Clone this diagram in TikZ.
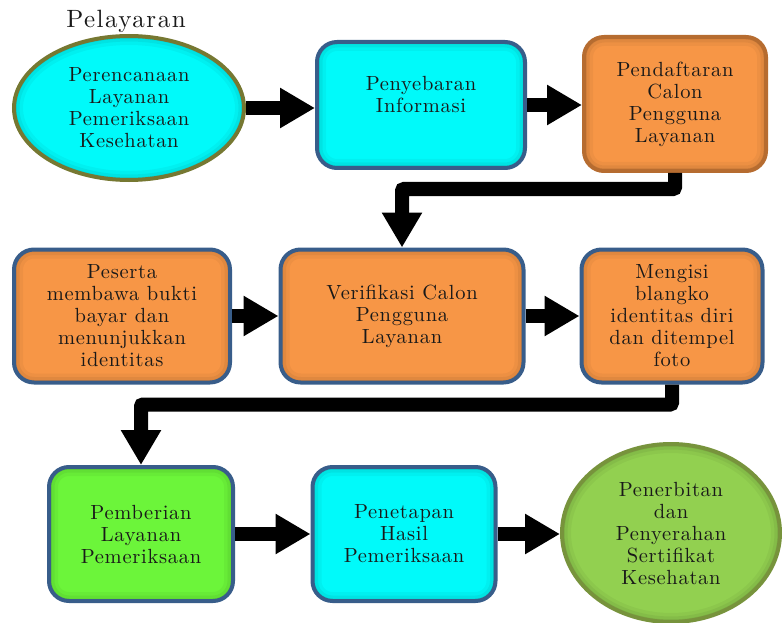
\documentclass[tikz,border=0pt]{standalone}
\usepackage{fontspec}
\setmainfont{lmroman10-regular.otf}[LetterSpace=3.5]
\usetikzlibrary{arrows.meta,calc,shapes.geometric}
\definecolor{cyanfill}{RGB}{0,250,250}
\definecolor{orangefill}{RGB}{247,150,70}
\definecolor{greenfill}{RGB}{108,245,58}
\definecolor{limefill}{RGB}{146,208,80}
\definecolor{boxline}{RGB}{56,93,138}
\definecolor{orangeline}{RGB}{182,108,48}
\definecolor{oliveline}{RGB}{118,120,50}
\definecolor{limeline}{RGB}{119,147,60}
\newcommand\glowpath[1]{%
    \foreach \gw/\go in {18/.04,11/.05,5/.06}
        \draw[line width=\gw,draw=black,draw opacity=\go,#1]}
\begin{document}
\begin{tikzpicture}[x=1pt,y=-1pt,
    txt/.style={align=center,text=black!90,font=\fontsize{20.5}{22}\selectfont},
    box/.style={txt,draw=boxline,line width=4,rounded corners=20,
        path picture={\glowpath{rounded corners=20}
            (path picture bounding box.south west) rectangle (path picture bounding box.north east);}},
    oval/.style={txt,ellipse,line width=4,inner sep=0pt,
        path picture={\glowpath{}
            let \p1=($(path picture bounding box.north east)-(path picture bounding box.center)$) in
            (path picture bounding box.center) ellipse [x radius=\x1,y radius=\y1];}},
    flow/.style={line width=14,rounded corners=2,-{Triangle[length=35pt,width=38pt]}}]
    \useasboundingbox (0,0) rectangle (782,623);

    \node[anchor=base,text=black!90,font=\fontsize{25}{27}\selectfont\addfontfeature{LetterSpace=6}] (ttl) at (126,28) {Pelayaran};

    \node[oval,fill=cyanfill,draw=oliveline,minimum width=230,minimum height=144] (ren) at (129,108)
        {Perencanaan\\Layanan\\Pemeriksaan\\Kesehatan};
    \node[box,fill=cyanfill,minimum width=208,minimum height=126] (sebar) at (421,105)
        {Penyebaran\\Informasi\\\phantom{I}};
    \node[box,fill=orangefill,draw=orangeline,minimum width=182,minimum height=134] (daftar) at (675,104)
        {Pendaftaran\\Calon\\Pengguna\\Layanan};

    \node[box,fill=orangefill,minimum width=216,minimum height=133] (bukti) at (122,316)
        {Peserta\\membawa bukti\\bayar dan\\menunjukkan\\identitas};
    \node[box,fill=orangefill,minimum width=243,minimum height=133] (verif) at (402,316)
        {Verifikasi Calon\\Pengguna\\Layanan};
    \node[box,fill=orangefill,minimum width=181,minimum height=133] (isi) at (672,316)
        {Mengisi\\blangko\\identitas diri\\dan ditempel\\foto};

    \node[box,fill=greenfill,minimum width=184,minimum height=134] (beri) at (141,534)
        {Pemberian\\Layanan\\Pemeriksaan};
    \node[box,fill=cyanfill,minimum width=183,minimum height=134] (tetap) at (404,534)
        {Penetapan\\Hasil\\Pemeriksaan};
    \node[oval,fill=limefill,draw=limeline,minimum width=218,minimum height=178] (terbit) at (671,533)
        {Penerbitan\\dan\\Penyerahan\\Sertifikat\\Kesehatan};

    \draw[flow] (ren.east) -- (ren.east -| sebar.west);
    \draw[flow] (sebar.east) -- (sebar.east -| daftar.west);
    \draw[flow] (daftar.south) -- ++(0,16) -| (verif.north);
    \draw[flow] (bukti.east) -- (bukti.east -| verif.west);
    \draw[flow] (verif.east) -- (verif.east -| isi.west);
    \draw[flow] (isi.south) -- ++(0,20) -| (beri.north);
    \draw[flow] (beri.east) -- (beri.east -| tetap.west);
    \draw[flow] (tetap.east) -- (tetap.east -| terbit.west);
\end{tikzpicture}
\end{document}
